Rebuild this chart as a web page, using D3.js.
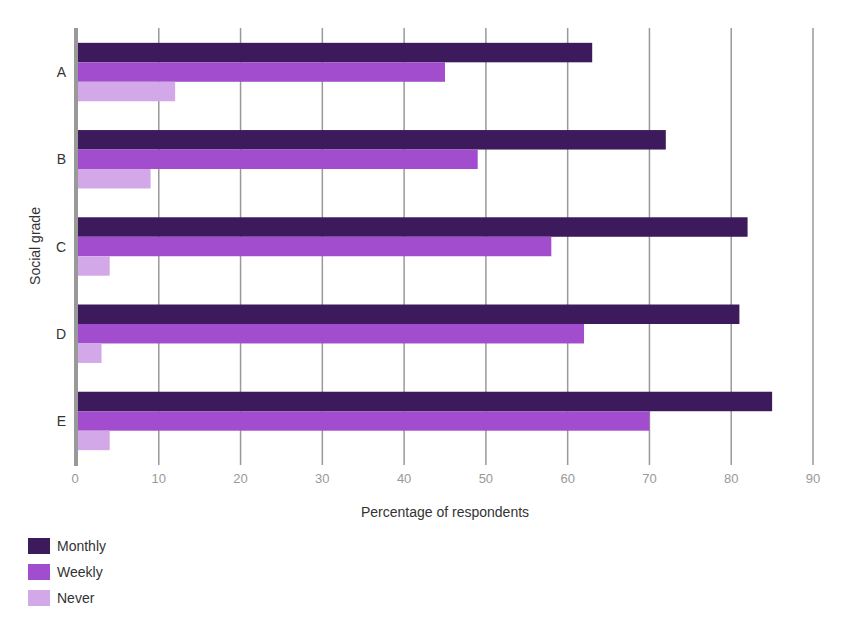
<!DOCTYPE html>
<html><head><meta charset="utf-8">
<script src="https://cdn.jsdelivr.net/npm/d3@7"></script>
<style>body{margin:0;background:#fff;font-family:Arial,"Liberation Sans",sans-serif}</style>
</head><body><svg id="chart" width="850" height="633"></svg>
<script>
const grades = ["A", "B", "C", "D", "E"];
const seriesNames = ["Monthly", "Weekly", "Never"];
const monthly = [63, 72, 82, 81, 85];
const weekly = [45, 49, 58, 62, 70];
const never = [12, 9, 4, 3, 4];
const xTicks = [0, 10, 20, 30, 40, 50, 60, 70, 80, 90];
const colors = ["#3c1a5b", "#a24cce", "#d3a8e8"];

const svg = d3.select("#chart");
const x = d3.scaleLinear().domain([0, 90]).range([77, 813]);
const y = d3.scaleBand().domain(grades).range([28, 465]).paddingInner(0.33).paddingOuter(0.17);
const sub = d3.scaleBand().domain(seriesNames).range([0, y.bandwidth()]);
const values = [monthly, weekly, never];

// gridlines
svg.append("g").selectAll("line").data(xTicks.slice(1)).enter().append("line")
    .attr("x1", d => x(d)).attr("x2", d => x(d))
    .attr("y1", 28).attr("y2", 465)
    .attr("stroke", "#999").attr("stroke-width", 1.5);

seriesNames.forEach((s, i) => {
    svg.append("g").selectAll("rect").data(grades).enter().append("rect")
        .attr("x", x(0))
        .attr("y", g => y(g) + sub(s))
        .attr("width", (g, j) => x(values[i][j]) - x(0))
        .attr("height", sub.bandwidth())
        .attr("fill", colors[i]);
});

// y axis line
svg.append("line").attr("x1", 76).attr("x2", 76).attr("y1", 28).attr("y2", 466)
    .attr("stroke", "#999").attr("stroke-width", 4);

svg.append("g").selectAll("text").data(grades).enter().append("text")
    .attr("x", 66).attr("y", g => y(g) + y.bandwidth() / 2 + 5)
    .attr("text-anchor", "end").attr("font-size", 14).attr("fill", "#333").text(g => g);

svg.append("g").selectAll("text").data(xTicks).enter().append("text")
    .attr("x", d => x(d) - (d === 0 ? 2 : 0)).attr("y", 483)
    .attr("text-anchor", "middle").attr("font-size", 13).attr("fill", "#999").text(d => d);

svg.append("text").attr("x", 445).attr("y", 517).attr("text-anchor", "middle")
    .attr("font-size", 14).attr("fill", "#333").text("Percentage of respondents");
svg.append("text").attr("transform", "translate(40,246) rotate(-90)").attr("text-anchor", "middle")
    .attr("font-size", 14).attr("fill", "#333").text("Social grade");

const leg = svg.append("g").selectAll("g").data(seriesNames).enter().append("g")
    .attr("transform", (d, i) => `translate(28,${538 + i * 26})`);
leg.append("rect").attr("width", 22).attr("height", 16).attr("fill", (d, i) => colors[i]);
leg.append("text").attr("x", 29).attr("y", 13).attr("font-size", 14).attr("fill", "#333").text(d => d);
</script></body></html>
